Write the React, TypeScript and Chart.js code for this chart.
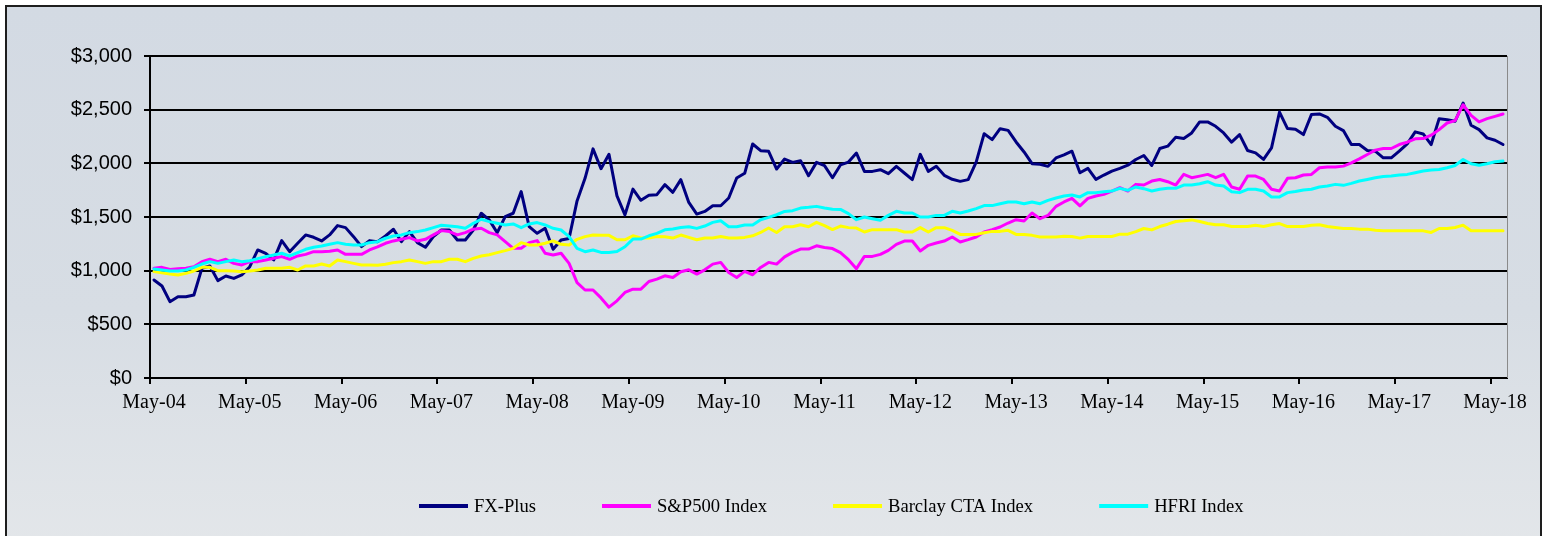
import React, { useEffect, useRef } from 'react';
import { Chart, registerables } from 'chart.js';

Chart.register(...registerables);

// ---- Data ----
const MONTH_NAMES = ['Jan', 'Feb', 'Mar', 'Apr', 'May', 'Jun', 'Jul', 'Aug', 'Sep', 'Oct', 'Nov', 'Dec'];
const FIRST_MONTH = 4; // May
const FIRST_YEAR = 2004;
const MONTH_COUNT = 170; // May-04 .. Jun-18

const categories: string[] = Array.from({ length: MONTH_COUNT }, (_, k) => {
  const m = (FIRST_MONTH + k) % 12;
  const y = FIRST_YEAR + Math.floor((FIRST_MONTH + k) / 12);
  return `${MONTH_NAMES[m]}-${String(y % 100).padStart(2, '0')}`;
});

const yTicks = [0, 500, 1000, 1500, 2000, 2500, 3000];

const fxPlus = [
  913, 857, 711, 757, 757, 773, 1022, 1044, 907, 950,
  928, 960, 1037, 1193, 1162, 1100, 1280, 1177, 1255, 1333,
  1311, 1277, 1333, 1420, 1401, 1317, 1224, 1280, 1270, 1323,
  1386, 1270, 1364, 1261, 1218, 1317, 1379, 1379, 1286, 1286,
  1379, 1535, 1473, 1354, 1504, 1535, 1737, 1410, 1348, 1395,
  1199, 1286, 1300, 1650, 1860, 2135, 1950, 2085, 1697, 1520,
  1760, 1656, 1702, 1708, 1801, 1730, 1848, 1636, 1527, 1552,
  1605, 1605, 1677, 1863, 1907, 2180, 2118, 2112, 1947, 2040,
  2009, 2025, 1885, 2009, 1978, 1866, 1985, 2012, 2096, 1925,
  1925, 1941, 1904, 1972, 1910, 1848, 2084, 1925, 1972, 1888,
  1851, 1832, 1848, 2012, 2276, 2221, 2323, 2307, 2199, 2106,
  1997, 1991, 1972, 2050, 2078, 2113, 1912, 1953, 1850, 1891,
  1928, 1953, 1983, 2036, 2073, 1980, 2138, 2160, 2243, 2231,
  2283, 2386, 2386, 2345, 2283, 2197, 2268, 2120, 2098, 2036,
  2144, 2478, 2324, 2318, 2268, 2454, 2460, 2429, 2345, 2305,
  2175, 2175, 2120, 2113, 2051, 2051, 2113, 2181, 2293, 2274,
  2175, 2416, 2407, 2392, 2562, 2355, 2314, 2237, 2215, 2175,
];

const sp500 = [
  1022, 1031, 1012, 1018, 1022, 1037, 1084, 1106, 1084, 1106,
  1068, 1053, 1084, 1084, 1100, 1115, 1131, 1106, 1137, 1152,
  1177, 1177, 1180, 1193, 1152, 1152, 1152, 1193, 1221, 1255,
  1277, 1292, 1308, 1277, 1292, 1333, 1373, 1364, 1333, 1354,
  1386, 1395, 1354, 1333, 1270, 1208, 1208, 1261, 1280, 1162,
  1146, 1162, 1068, 888, 820, 820, 746, 660, 719, 797,
  828, 828, 899, 921, 952, 937, 990, 1008, 968, 1008,
  1061, 1077, 983, 937, 993, 962, 1030, 1077, 1061, 1129,
  1170, 1201, 1201, 1232, 1216, 1206, 1168, 1102, 1019, 1133,
  1133, 1152, 1189, 1245, 1276, 1276, 1183, 1236, 1258, 1276,
  1314, 1267, 1289, 1314, 1360, 1382, 1407, 1444, 1475, 1463,
  1537, 1484, 1515, 1599, 1640, 1674, 1603, 1674, 1696, 1711,
  1742, 1773, 1742, 1804, 1798, 1835, 1850, 1829, 1798, 1897,
  1866, 1881, 1897, 1866, 1897, 1779, 1758, 1881, 1881, 1850,
  1758, 1742, 1860, 1866, 1891, 1897, 1959, 1965, 1965, 1974,
  2005, 2042, 2082, 2123, 2138, 2138, 2175, 2197, 2228, 2231,
  2262, 2314, 2376, 2398, 2546, 2447, 2386, 2416, 2438, 2460,
];

const barclayCta = [
  991, 981, 969, 960, 975, 997, 1031, 1031, 1000, 1000,
  997, 991, 997, 1006, 1022, 1022, 1022, 1031, 1006, 1044,
  1044, 1062, 1044, 1100, 1084, 1068, 1053, 1053, 1050, 1059,
  1075, 1084, 1100, 1084, 1068, 1084, 1084, 1106, 1106, 1084,
  1115, 1137, 1149, 1168, 1187, 1208, 1261, 1239, 1239, 1255,
  1277, 1246, 1239, 1292, 1317, 1333, 1329, 1329, 1288, 1288,
  1325, 1304, 1304, 1319, 1316, 1304, 1332, 1310, 1288, 1304,
  1304, 1319, 1304, 1304, 1310, 1325, 1356, 1397, 1356, 1409,
  1409, 1428, 1409, 1450, 1419, 1383, 1416, 1401, 1397, 1360,
  1382, 1382, 1382, 1382, 1360, 1360, 1401, 1360, 1401, 1401,
  1376, 1338, 1338, 1338, 1354, 1366, 1366, 1376, 1338, 1338,
  1329, 1314, 1314, 1314, 1320, 1318, 1303, 1318, 1318, 1318,
  1318, 1340, 1340, 1364, 1393, 1380, 1411, 1433, 1458, 1464,
  1473, 1458, 1439, 1427, 1427, 1411, 1411, 1411, 1424, 1411,
  1427, 1439, 1411, 1411, 1411, 1424, 1427, 1411, 1402, 1393,
  1393, 1387, 1387, 1377, 1371, 1371, 1371, 1371, 1371, 1371,
  1356, 1393, 1393, 1402, 1424, 1371, 1371, 1371, 1371, 1371,
];

const hfri = [
  1016, 1006, 997, 997, 1006, 1031, 1062, 1084, 1068, 1084,
  1100, 1084, 1093, 1112, 1131, 1146, 1162, 1137, 1168, 1199,
  1218, 1230, 1246, 1261, 1246, 1239, 1239, 1261, 1270, 1302,
  1323, 1333, 1354, 1364, 1379, 1401, 1423, 1417, 1410, 1395,
  1441, 1479, 1457, 1441, 1426, 1435, 1401, 1435, 1448, 1426,
  1395, 1379, 1317, 1208, 1177, 1193, 1170, 1170, 1179, 1223,
  1294, 1294, 1325, 1347, 1381, 1388, 1403, 1409, 1394, 1416,
  1450, 1465, 1409, 1409, 1425, 1425, 1475, 1496, 1521, 1552,
  1559, 1583, 1590, 1599, 1583, 1572, 1571, 1531, 1475, 1500,
  1484, 1469, 1515, 1553, 1537, 1537, 1500, 1500, 1515, 1515,
  1553, 1537, 1556, 1578, 1606, 1606, 1624, 1640, 1640, 1624,
  1640, 1624, 1655, 1677, 1695, 1705, 1687, 1727, 1727, 1736,
  1742, 1767, 1749, 1780, 1764, 1742, 1758, 1767, 1767, 1798,
  1798, 1810, 1829, 1798, 1789, 1736, 1727, 1758, 1758, 1742,
  1687, 1687, 1727, 1738, 1752, 1758, 1779, 1789, 1804, 1795,
  1813, 1835, 1850, 1866, 1878, 1881, 1891, 1897, 1912, 1928,
  1937, 1943, 1959, 1980, 2036, 1996, 1983, 1996, 2014, 2021,
];

const seriesNames = ['FX-Plus', 'S&P500 Index', 'Barclay CTA Index', 'HFRI Index'];
const seriesColors = ['#000080', '#ff00ff', '#ffff00', '#00ffff'];

// ---- Plugins ----
const plotEdgePlugin = {
  id: 'plotEdge',
  beforeDatasetsDraw(chart: any) {
    const { ctx, chartArea } = chart;
    ctx.save();
    ctx.strokeStyle = '#8a8a8a';
    ctx.lineWidth = 1;
    ctx.beginPath();
    ctx.moveTo(Math.round(chartArea.right) + 0.5, chartArea.top);
    ctx.lineTo(Math.round(chartArea.right) + 0.5, chartArea.bottom);
    ctx.stroke();
    ctx.restore();
  },
};

const customLegendPlugin = {
  id: 'customLegend',
  afterDraw(chart: any) {
    const { ctx } = chart;
    const opts = chart.options.plugins.customLegend || {};
    const startX = opts.x ?? 419;
    const lineY = opts.y ?? 506;
    const lineLen = opts.lineLength ?? 49;
    const textGap = opts.textGap ?? 6;
    const itemGap = opts.itemGap ?? 66;
    ctx.save();
    ctx.font = '18.6px "Liberation Serif", "Times New Roman", serif';
    ctx.textBaseline = 'middle';
    ctx.textAlign = 'left';
    let x = startX;
    chart.data.datasets.forEach((ds: any) => {
      ctx.strokeStyle = ds.borderColor;
      ctx.lineWidth = 4;
      ctx.lineCap = 'butt';
      ctx.beginPath();
      ctx.moveTo(x, lineY);
      ctx.lineTo(x + lineLen, lineY);
      ctx.stroke();
      const tx = x + lineLen + textGap;
      const w = ctx.measureText(ds.label).width;
      ctx.fillStyle = '#000';
      ctx.fillText(ds.label, tx, lineY + 1);
      x = tx + w + itemGap;
    });
    ctx.restore();
  },
};

export default function App() {
  const canvasRef = useRef<HTMLCanvasElement | null>(null);

  useEffect(() => {
    if (!canvasRef.current) return;
    const seriesValues = [fxPlus, sp500, barclayCta, hfri];
    const chart = new Chart(canvasRef.current, {
      type: 'line',
      data: {
        labels: categories,
        datasets: seriesValues.map((values, i) => ({
          label: seriesNames[i],
          data: values,
          borderColor: seriesColors[i],
          backgroundColor: seriesColors[i],
          borderWidth: 3,
          pointRadius: 0,
          pointHoverRadius: 0,
          tension: 0,
          fill: false,
          borderJoinStyle: 'round' as const,
          borderCapStyle: 'round' as const,
          order: seriesValues.length - 1 - i,
        })),
      },
      options: {
        responsive: false,
        animation: false,
        devicePixelRatio: 1,
        layout: { padding: { left: 0, right: 37, top: 56, bottom: 118 } },
        plugins: {
          legend: { display: false },
          tooltip: { enabled: false },
          customLegend: { x: 419, y: 506, lineLength: 49, textGap: 6, itemGap: 66 },
        } as any,
        scales: {
          x: {
            type: 'category',
            offset: true,
            grid: {
              offset: true,
              drawOnChartArea: false,
              drawTicks: true,
              tickLength: 6,
              lineWidth: 2,
              color: (c: any) => (c.index % 12 === 0 ? '#000' : 'rgba(0,0,0,0)'),
              tickColor: (c: any) => (c.index % 12 === 0 ? '#000' : 'rgba(0,0,0,0)'),
            },
            border: { display: true, color: '#000', width: 2 },
            ticks: {
              autoSkip: false,
              maxRotation: 0,
              minRotation: 0,
              padding: 7,
              color: '#000',
              font: { family: '"Liberation Serif", "Times New Roman", serif', size: 20 },
              callback: function (this: any, value: any, index: number) {
                return index % 12 === 0 ? this.getLabelForValue(value) : '';
              },
            },
            afterFit: (scale: any) => {
              scale.height = 40;
            },
          },
          y: {
            min: 0,
            max: 3000,
            afterBuildTicks: (scale: any) => {
              scale.ticks = yTicks.map((v) => ({ value: v }));
            },
            grid: {
              color: '#000',
              lineWidth: 2,
              drawTicks: true,
              tickLength: 6,
              tickColor: '#000',
            },
            border: { display: true, color: '#000', width: 2 },
            ticks: {
              padding: 12,
              color: '#000',
              font: { family: '"Liberation Sans", Arial, sans-serif', size: 20 },
              callback: (v: any) => '$' + Number(v).toLocaleString('en-US'),
            },
            afterFit: (scale: any) => {
              scale.width = 150;
            },
          },
        },
      },
      plugins: [plotEdgePlugin, customLegendPlugin],
    });
    return () => chart.destroy();
  }, []);

  return (
    <div
      style={{
        position: 'absolute',
        left: 0,
        top: 0,
        width: 1544,
        height: 536,
        overflow: 'hidden',
        background: '#ffffff',
      }}
    >
      <div
        style={{
          position: 'absolute',
          left: 5,
          top: 5,
          width: 1537,
          height: 560,
          boxSizing: 'border-box',
          border: '2px solid #1e1e1e',
          background: 'linear-gradient(180deg, #d3dae3 0%, #d7dde4 55%, #e4e7ea 100%)',
        }}
      />
      <canvas
        ref={canvasRef}
        width={1544}
        height={536}
        style={{ position: 'absolute', left: 0, top: 0, width: 1544, height: 536 }}
      />
    </div>
  );
}
